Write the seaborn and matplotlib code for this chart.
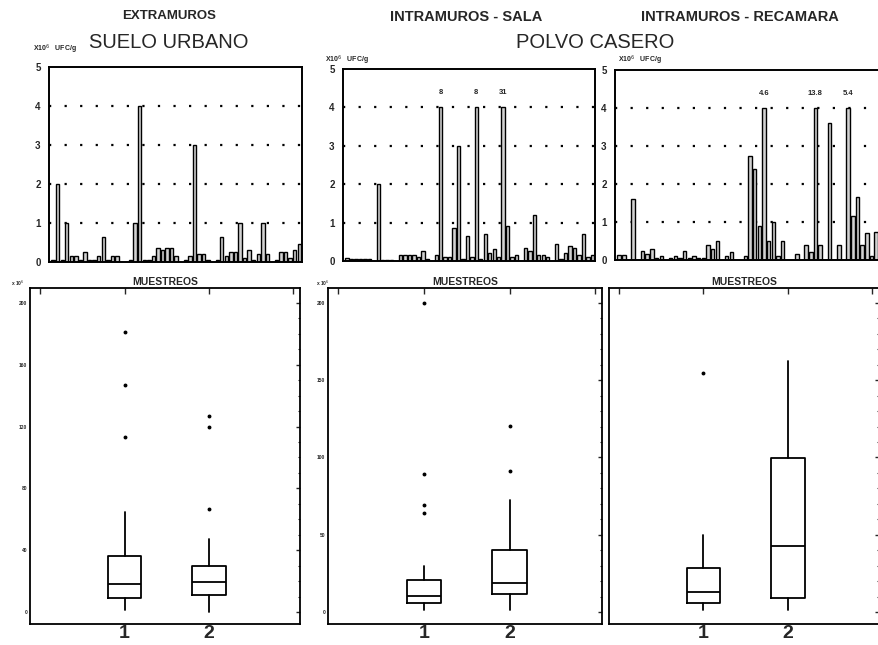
import numpy as np
import matplotlib
matplotlib.use("Agg")
import matplotlib.pyplot as plt
import seaborn as sns

sns.set_style("white")
plt.rcParams["font.family"] = ["Liberation Sans", "DejaVu Sans"]
NARROW = ["Liberation Sans Narrow", "Liberation Sans", "DejaVu Sans"]

# ------------------------------------------------------------
# data: UFC/g (x10^6) per sample, top row
# ------------------------------------------------------------
suelo_urbano = [0.05, 2.0, 0.05, 1.0, 0.15, 0.15, 0.05, 0.25, 0.05, 0.05,
                0.15, 0.65, 0.05, 0.15, 0.15, 0.0, 0.0, 0.05, 1.0, 4.0,
                0.05, 0.05, 0.15, 0.35, 0.3, 0.35, 0.35, 0.15, 0.0, 0.05,
                0.15, 3.0, 0.2, 0.2, 0.05, 0.0, 0.05, 0.65, 0.15, 0.25,
                0.25, 1.0, 0.1, 0.3, 0.05, 0.2, 1.0, 0.2, 0.0, 0.05,
                0.25, 0.25, 0.1, 0.3, 0.45]

polvo_sala = [0.08, 0.05, 0.05, 0.05, 0.05, 0.05, 0.0, 2.0, 0.02, 0.02,
              0.02, 0.0, 0.15, 0.15, 0.15, 0.15, 0.1, 0.25, 0.05, 0.0,
              0.15, 8, 0.1, 0.1, 0.85, 3.0, 0.05, 0.65, 0.1, 8,
              0.05, 0.7, 0.2, 0.3, 0.1, 31, 0.9, 0.1, 0.15, 0.0,
              0.35, 0.25, 1.2, 0.15, 0.15, 0.1, 0.0, 0.45, 0.05, 0.2,
              0.4, 0.35, 0.15, 0.7, 0.1, 0.15]

polvo_recamara = [0.12, 0.12, 0.0, 1.6, 0.0, 0.25, 0.15, 0.3, 0.05, 0.1,
                  0.0, 0.05, 0.1, 0.05, 0.25, 0.05, 0.1, 0.05, 0.05, 0.4,
                  0.3, 0.5, 0.0, 0.1, 0.2, 0.0, 0.0, 0.1, 2.75, 2.4,
                  0.9, 4.6, 0.5, 1.0, 0.1, 0.5, 0.0, 0.0, 0.15, 0.0,
                  0.4, 0.2, 13.8, 0.4, 0.0, 3.6, 0.0, 0.4, 0.0, 5.4,
                  1.15, 1.65, 0.4, 0.7, 0.1, 0.75]

# ------------------------------------------------------------
# data: box summaries per muestreo (x10^6), bottom row
# ------------------------------------------------------------
box_suelo = [dict(q1=9, med=18, q3=36.5, whislo=1.5, whishi=65, fliers=[113, 147, 181]),
             dict(q1=11, med=19.5, q3=30, whislo=0, whishi=47, fliers=[66.5, 120, 127])]
box_sala = [dict(q1=5.5, med=10.5, q3=20.5, whislo=1, whishi=30, fliers=[64, 69.5, 89.5, 200]),
            dict(q1=11.5, med=18.5, q3=40, whislo=1, whishi=72.5, fliers=[91, 120.5])]
box_recamara = [dict(q1=6, med=13, q3=28.5, whislo=1, whishi=50, fliers=[155]),
                dict(q1=9, med=43, q3=99.5, whislo=1, whishi=162.5, fliers=[])]

W, H = 879, 645
fig = plt.figure(figsize=(W / 100, H / 100), dpi=100)


def px_axes(left, top, right, bottom):
    return fig.add_axes([left / W, 1 - bottom / H, (right - left) / W, (bottom - top) / H])


# ---------------- top row: bar panels ----------------
top_specs = [
    (suelo_urbano, (49, 67, 302, 262)),
    (polvo_sala, (343, 69, 595, 261)),
    (polvo_recamara, (615, 70, 879, 260)),
]
for vals, box in top_specs:
    ax = px_axes(*box)
    vals = np.asarray(vals, dtype=float)
    idx = np.arange(len(vals))
    sns.barplot(x=idx, y=np.minimum(vals, 4), ax=ax, color="#d2d2d2",
                edgecolor="black", linewidth=1.0, width=0.75, saturation=1)
    for i, v in zip(idx, vals):
        if v > 4:
            ax.text(i, 4.3, f"{v:g}", ha="center", va="bottom",
                    fontsize=5.5, fontweight="bold")
    ax.set_xlim(-0.9, len(vals) - 0.4)
    ax.set_ylim(0, 5)
    ax.set_yticks(range(6))
    ax.set_yticklabels([str(t) for t in range(6)], fontsize=7, fontweight="bold")
    ax.set_xticks(idx)
    ax.set_xticklabels([])
    ax.tick_params(axis="x", direction="out", length=2.5, width=0.6)
    ax.tick_params(axis="y", direction="out", length=3, width=1, pad=3)
    ax.set_xlabel("")
    ax.set_ylabel("")
    ax.set_axisbelow(True)
    for yv in range(1, 5):
        ax.axhline(yv, color="black", linestyle=(0, (1, 6)), linewidth=1.6, zorder=0)
    for sp in ax.spines.values():
        sp.set_linewidth(1.4)
        sp.set_color("black")

# column headers
fig.text(169 / W, 1 - 16 / H, "EXTRAMUROS", ha="center", va="center",
         fontsize=9.5, fontweight="bold", family=NARROW)
fig.text(466 / W, 1 - 17 / H, "INTRAMUROS - SALA", ha="center", va="center",
         fontsize=10.5, fontweight="bold", family=NARROW)
fig.text(740 / W, 1 - 17 / H, "INTRAMUROS - RECAMARA", ha="center", va="center",
         fontsize=10.5, fontweight="bold", family=NARROW)
fig.text(169 / W, 1 - 43 / H, "SUELO URBANO", ha="center", va="center", fontsize=14.5)
fig.text(595 / W, 1 - 43 / H, "POLVO CASERO", ha="center", va="center", fontsize=14.5)

# unit labels
for x0, y0 in [(33, 49), (325, 60), (618, 60)]:
    fig.text(x0 / W, 1 - y0 / H, r"X10$^6$   UFC/g", ha="left", va="center",
             fontsize=5, fontweight="bold")

# ---------------- bottom row: box panels ----------------
bot_specs = [
    (box_suelo, (30, 288, 300, 624), [0, 40, 80, 120, 160, 200], True),
    (box_sala, (328, 288, 602, 624), [0, 50, 100, 150, 200], True),
    (box_recamara, (609, 288, 879, 624), [0, 50, 100, 150, 200], False),
]
for stats, box, yt, show_lab in bot_specs:
    ax = px_axes(*box)
    ax.bxp(stats, positions=[1, 2], widths=0.4, showcaps=False, showfliers=True,
           boxprops=dict(color="black", linewidth=1.3),
           medianprops=dict(color="black", linewidth=1.3),
           whiskerprops=dict(color="black", linewidth=1.3),
           flierprops=dict(marker="o", markersize=1.8, markerfacecolor="black",
                           markeredgecolor="black"))
    ax.set_xlim(-0.12, 3.08)
    ax.set_ylim(-7.8, 209.7)
    ax.set_xticks([0, 1, 2, 3])
    ax.set_xticklabels(["", "1", "2", ""], fontsize=14, fontweight="bold")
    ax.set_yticks(yt)
    ax.set_yticks(np.arange(0, 201, 10), minor=True)
    if show_lab:
        ax.set_yticklabels([str(t) for t in yt], fontsize=3.5, fontweight="bold")
        ax.text(-0.07 if yt[1] == 40 else -0.045, 1.0, r"x 10$^6$", transform=ax.transAxes,
                fontsize=3.5, fontweight="bold", ha="left", va="bottom")
    else:
        ax.set_yticklabels([])
    ax.tick_params(axis="both", which="both", direction="in", top=True, right=True)
    ax.tick_params(axis="x", length=4, width=1, pad=1)
    ax.tick_params(axis="y", which="major", length=3, width=1, pad=2)
    ax.tick_params(axis="y", which="minor", length=1.5, width=0.8)
    ax.set_title("MUESTREOS", fontsize=7.5, fontweight="bold", family=NARROW, pad=2)
    for sp in ax.spines.values():
        sp.set_linewidth(1.3)
        sp.set_color("black")

fig.savefig("out.png", dpi=100, facecolor="white")
